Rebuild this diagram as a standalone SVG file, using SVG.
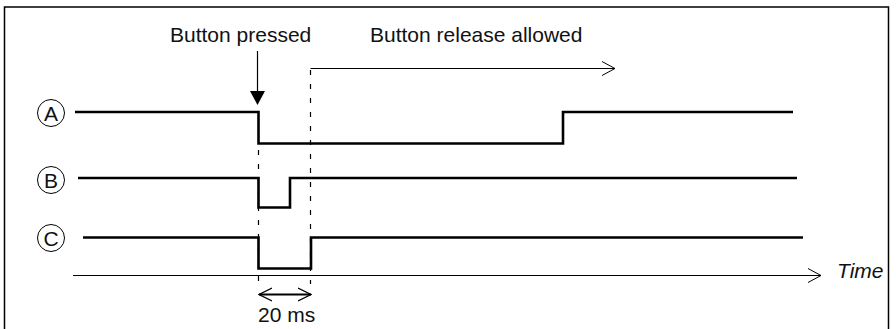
<svg xmlns="http://www.w3.org/2000/svg" width="896" height="329" viewBox="0 0 896 329">
<style>
.txt{font-family:"Liberation Sans",Arial,sans-serif;font-size:21px;fill:#111}
.sig{fill:none;stroke:#000;stroke-width:2.6;stroke-linejoin:miter}
.thin{fill:none;stroke:#000;stroke-width:1.2}
.dash{fill:none;stroke:#000;stroke-width:1.2;stroke-dasharray:5,9}
.lbl{fill:#fff;stroke:#000;stroke-width:1}
</style>
<defs>
<marker id="open" markerWidth="14" markerHeight="16" refX="13" refY="8" orient="auto" markerUnits="userSpaceOnUse">
<path d="M0,1 L13,8 L0,15" fill="none" stroke="#000" stroke-width="1"/>
</marker>
<marker id="open2" markerWidth="14" markerHeight="16" refX="13" refY="8" orient="auto-start-reverse" markerUnits="userSpaceOnUse">
<path d="M0,1.5 L13,8 L0,14.5" fill="none" stroke="#000" stroke-width="1.3"/>
</marker>
</defs>
<rect width="896" height="329" fill="#fff"/>
<path d="M4.5,335 V7 H888.5 V335" fill="none" stroke="#000" stroke-width="1.5"/>

<g id="label-pressed">
<text class="txt" x="170" y="42">Button pressed</text>
</g>
<g id="label-release">
<text class="txt" x="370" y="42">Button release allowed</text>
</g>

<g id="circle-A">
<circle class="lbl" cx="51" cy="113" r="13.5"/>
<text class="txt" x="51" y="120.5" text-anchor="middle">A</text>
</g>
<g id="circle-B">
<circle class="lbl" cx="51" cy="180" r="13.5"/>
<text class="txt" x="51" y="187.5" text-anchor="middle">B</text>
</g>
<g id="circle-C">
<circle class="lbl" cx="51" cy="238" r="13.5"/>
<text class="txt" x="51" y="245.5" text-anchor="middle">C</text>
</g>

<g id="signal-A">
<path class="sig" d="M75,112 H258.5 V143.5 H563 V112 H793"/>
</g>
<g id="signal-B">
<path class="sig" d="M78,178 H258.5 V207.5 H290 V178 H797"/>
</g>
<g id="signal-C">
<path class="sig" d="M83,237.5 H258.5 V268.5 H311 V237.5 H803"/>
</g>

<g id="connectors">
<line class="thin" x1="257.5" y1="51" x2="257.5" y2="92"/>
<path d="M250,91 L265,91 L257.5,105 Z" fill="#000"/>
<line class="dash" x1="258.5" y1="150" x2="258.5" y2="284"/>
<line class="dash" x1="310.5" y1="70" x2="310.5" y2="284"/>
<line class="thin" x1="310.5" y1="68.5" x2="615" y2="68.5" marker-end="url(#open)"/>
<line class="thin" x1="73" y1="275.5" x2="821" y2="275.5" marker-end="url(#open)"/>
<line x1="259" y1="294.5" x2="311" y2="294.5" stroke="#000" stroke-width="2" marker-start="url(#open2)" marker-end="url(#open2)"/>
</g>

<g id="label-time">
<text class="txt" x="837" y="278" font-style="italic">Time</text>
</g>
<g id="label-20ms">
<text class="txt" x="258" y="322">20 ms</text>
</g>
</svg>
